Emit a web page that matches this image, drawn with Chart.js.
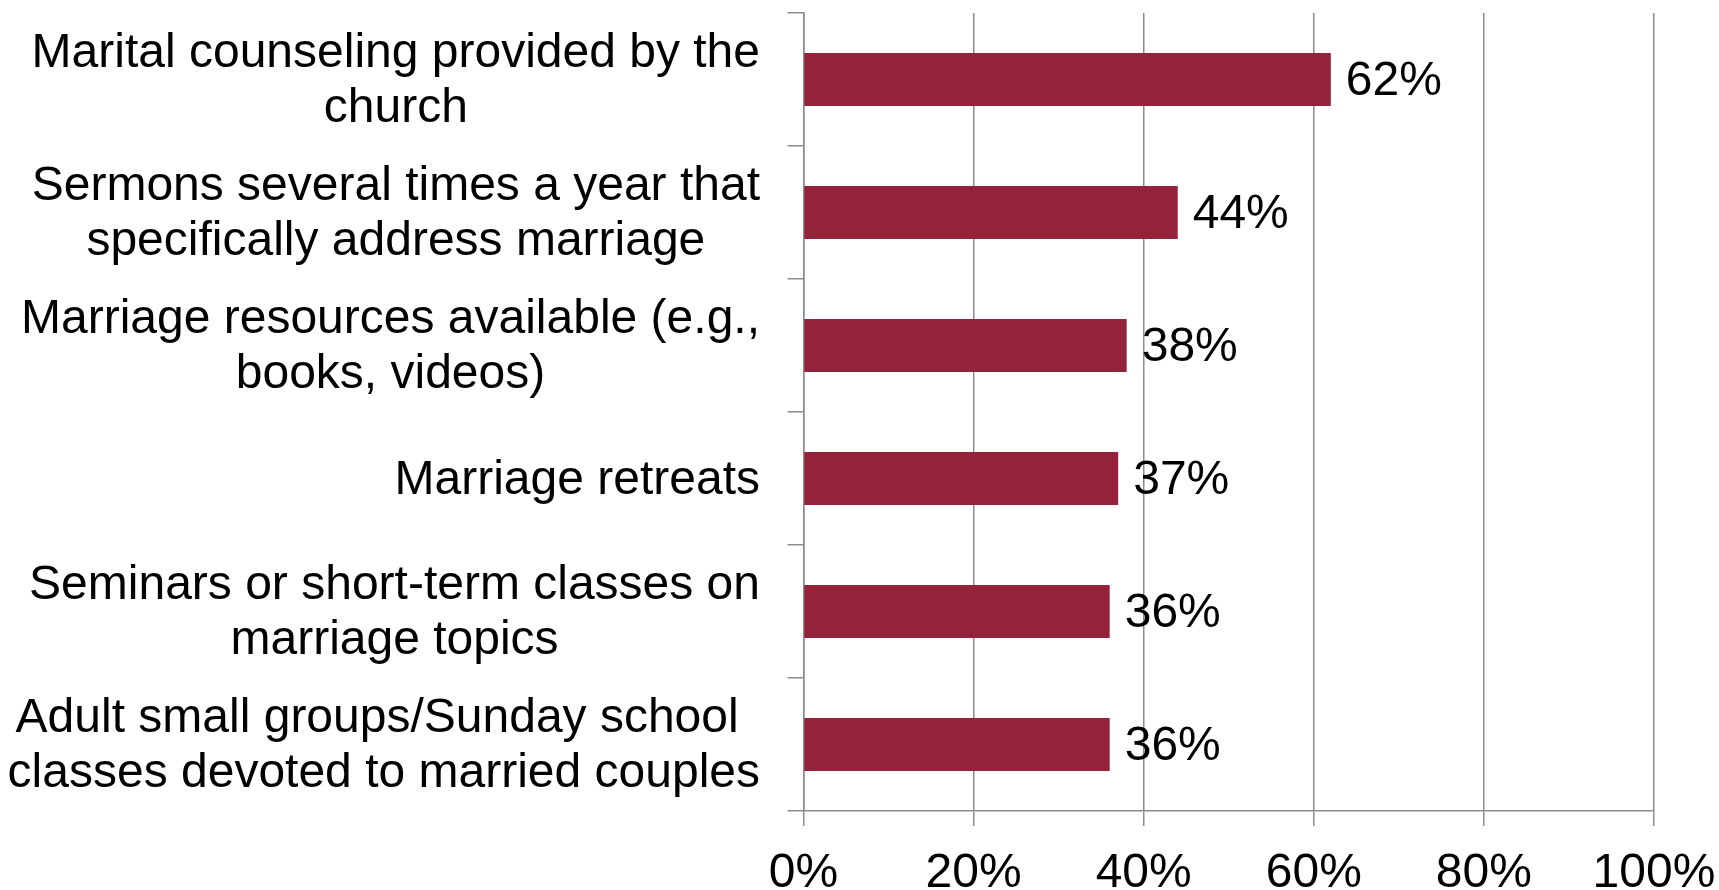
<!DOCTYPE html>
<html>
<head>
<meta charset="utf-8">
<script src="https://cdn.jsdelivr.net/npm/chart.js@4/dist/chart.umd.min.js"></script>
<style>
  html, body { margin: 0; padding: 0; background: #fff; }
  #wrap { width: 1719px; height: 890px; position: relative; }
</style>
</head>
<body>
<div id="wrap"><canvas id="chart"></canvas></div>
<script>
const categories = [
  ["Marital counseling provided by the", "church"],
  ["Sermons several times a year that", "specifically address marriage"],
  ["Marriage resources available (e.g.,", "books, videos)"],
  ["Marriage retreats"],
  ["Seminars or short-term classes on", "marriage topics"],
  ["Adult small groups/Sunday school ", "classes devoted to married couples"],
];
const values = [62, 44, 38, 37, 36, 36];
const xTickValues = [0, 20, 40, 60, 80, 100];

const FONT = '"Liberation Sans", Arial, sans-serif';
const GRID = "#8c8c8c";
const BAR = "#92233a";

// category labels: block right-aligned to the axis, lines centred inside the block
const categoryLabels = {
  id: "categoryLabels",
  afterDraw(chart) {
    const { ctx } = chart;
    const yScale = chart.scales.y;
    const right = 760;
    const lineH = 55;
    ctx.save();
    ctx.font = `48px ${FONT}`;
    ctx.fillStyle = "#000";
    ctx.textAlign = "center";
    ctx.textBaseline = "middle";
    categories.forEach((lines, i) => {
      const y = yScale.getPixelForValue(i) + 2;
      const widest = Math.max(...lines.map((l) => ctx.measureText(l).width));
      const cx = right - widest / 2;
      const y0 = y - ((lines.length - 1) * lineH) / 2;
      lines.forEach((l, j) => ctx.fillText(l, cx, y0 + j * lineH));
    });
    ctx.restore();
  },
};

const valueLabels = {
  id: "valueLabels",
  afterDatasetsDraw(chart) {
    const { ctx } = chart;
    const meta = chart.getDatasetMeta(0);
    ctx.save();
    ctx.font = `48px ${FONT}`;
    ctx.fillStyle = "#000";
    ctx.textAlign = "left";
    ctx.textBaseline = "middle";
    meta.data.forEach((bar, i) => {
      ctx.fillText(values[i] + "%", bar.x + 15, bar.y + 2);
    });
    ctx.restore();
  },
};

new Chart(document.getElementById("chart"), {
  type: "bar",
  data: {
    labels: categories,
    datasets: [
      {
        data: values,
        backgroundColor: BAR,
        borderWidth: 0,
        categoryPercentage: 1,
        barPercentage: 0.4,
      },
    ],
  },
  options: {
    indexAxis: "y",
    responsive: true,
    maintainAspectRatio: false,
    animation: false,
    layout: { padding: { top: 13, right: 65, left: 0, bottom: 0 } },
    plugins: { legend: { display: false }, tooltip: { enabled: false } },
    scales: {
      x: {
        min: 0,
        max: 100,
        afterBuildTicks: (scale) => {
          scale.ticks = xTickValues.map((v) => ({ value: v }));
        },
        afterFit: (scale) => {
          scale.height = 79;
          scale.paddingLeft = 0;
          scale.paddingRight = 0;
        },
        ticks: {
          callback: (v) => v + "%",
          color: "#000",
          font: { family: FONT, size: 48 },
          padding: 19,
          maxRotation: 0,
        },
        grid: { color: GRID, lineWidth: 1.5, tickLength: 15 },
        border: { color: GRID, width: 1.5 },
      },
      y: {
        afterFit: (scale) => {
          scale.width = 803.5;
          scale.paddingTop = 0;
          scale.paddingBottom = 0;
        },
        ticks: { display: false },
        grid: { color: GRID, lineWidth: 1.5, tickLength: 16, drawOnChartArea: false, offset: true },
        border: { color: GRID, width: 1.5 },
      },
    },
  },
  plugins: [categoryLabels, valueLabels],
});
</script>
</body>
</html>
